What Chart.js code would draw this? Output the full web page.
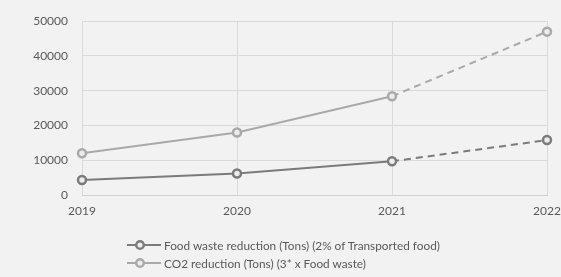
<!DOCTYPE html>
<html><head><meta charset="utf-8">
<script src="https://cdn.jsdelivr.net/npm/chart.js@4"></script>
<style>
html,body{margin:0;padding:0;background:#f2f2f2;}
#wrap{position:relative;width:561px;height:277px;overflow:hidden;}
#legend{position:absolute;left:127px;top:236px;font:11.8px Lato,sans-serif;color:#595959;}
.item{display:flex;align-items:center;height:18px;white-space:nowrap;}
.item svg{margin-right:3px;}
</style></head><body>
<div id="wrap"><canvas id="c" width="561" height="277"></canvas><div id="legend"></div></div>
<script>
const categories = ['2019', '2020', '2021', '2022'];
const foodWaste = [4300, 6200, 9700, 15800];
const co2Reduction = [12000, 18000, 28400, 47000];
const seriesNames = ['Food waste reduction (Tons) (2% of Transported food)', 'CO2 reduction (Tons) (3* x Food waste)'];
const yMin = 0, yMax = 50000, yStep = 10000;

const colors = ['#7b7b7b', '#a9a9a9'];
const dashFrom = 2; // projected segment starts after this index

const mk = (label, data, color) => ({
  label, data,
  borderColor: color,
  backgroundColor: '#ececec',
  pointBorderColor: color,
  pointBackgroundColor: '#ececec',
  borderWidth: 2,
  pointRadius: 4,
  pointBorderWidth: 2.5,
  tension: 0,
  segment: { borderDash: ctx => ctx.p0DataIndex >= dashFrom ? [7, 5] : undefined }
});

new Chart(document.getElementById('c'), {
  type: 'line',
  data: {
    labels: categories,
    datasets: [mk(seriesNames[0], foodWaste, colors[0]), mk(seriesNames[1], co2Reduction, colors[1])]
  },
  options: {
    responsive: false,
    devicePixelRatio: 1,
    animation: false,
    layout: { padding: { left: 0, right: 14, top: 13, bottom: 0 } },
    plugins: { legend: { display: false }, tooltip: { enabled: false } },
    scales: {
      x: {
        grid: { color: '#dadada', drawTicks: false },
        border: { color: '#d0d0d0' },
        ticks: { color: '#595959', font: { family: 'Lato', size: 12 }, padding: 9, maxRotation: 0 },
        afterFit: s => { s.height = 82; s.paddingRight = 0; s.paddingLeft = 0; }
      },
      y: {
        min: yMin, max: yMax,
        grid: { color: '#dadada', drawTicks: false },
        border: { display: false },
        ticks: { stepSize: yStep, color: '#595959', font: { family: 'Lato', size: 12 }, padding: 14, callback: v => String(v) },
        afterFit: s => { s.width = 82; }
      }
    }
  }
});

const legend = document.getElementById('legend');
seriesNames.forEach((name, i) => {
  const d = document.createElement('div');
  d.className = 'item';
  d.innerHTML = '<svg width="34" height="12"><line x1="0" y1="6" x2="34" y2="6" stroke="' + colors[i] + '" stroke-width="2"/><circle cx="13" cy="6" r="3.8" fill="#ececec" stroke="' + colors[i] + '" stroke-width="2.5"/></svg>';
  const t = document.createElement('span');
  t.textContent = name;
  d.appendChild(t);
  legend.appendChild(d);
});
</script>
</body></html>
